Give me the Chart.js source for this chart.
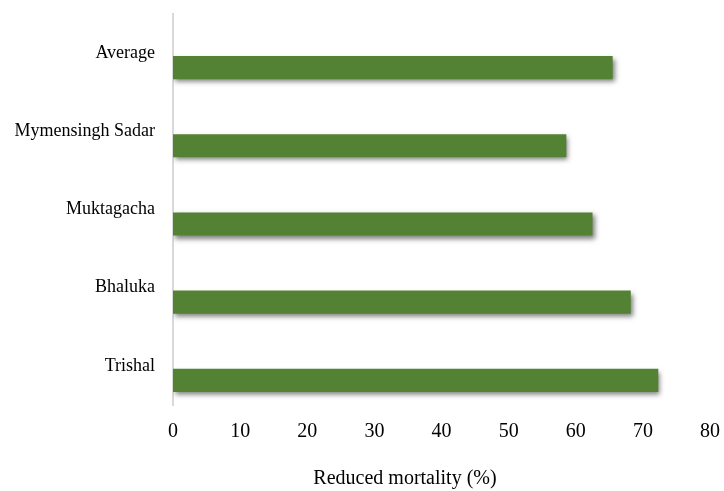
<!DOCTYPE html>
<html>
<head>
<meta charset="utf-8">
<script src="https://cdn.jsdelivr.net/npm/chart.js@4/dist/chart.umd.min.js"></script>
<style>
  html, body { margin: 0; padding: 0; background: #fff; }
  #wrap { width: 724px; height: 491px; }
</style>
</head>
<body>
<div id="wrap"><canvas id="myChart"></canvas></div>
<script>
// upazilas, top to bottom
const places = ['Average', 'Mymensingh Sadar', 'Muktagacha', 'Bhaluka', 'Trishal'];
// reduced mortality (%)
const mortality = [65.5, 58.6, 62.5, 68.2, 72.3];
// empty series, keeps the bars in the lower half of each row
const spacer = [null, null, null, null, null];

const xTitle = 'Reduced mortality (%)';
const serif = 'Liberation Serif, Times New Roman, serif';

// soft drop shadow under the bars
const barShadow = {
    id: 'barShadow',
    beforeDatasetsDraw: chart => {
        const ctx = chart.ctx;
        ctx.save();
        ctx.shadowColor = 'rgba(0,0,0,0.5)';
        ctx.shadowBlur = 5;
        ctx.shadowOffsetX = 2;
        ctx.shadowOffsetY = 3;
    },
    afterDatasetsDraw: chart => {
        chart.ctx.restore();
    }
};

// axis title under the tick labels
const axisTitle = {
    id: 'axisTitle',
    afterDraw: chart => {
        const ctx = chart.ctx;
        ctx.save();
        ctx.font = '20px ' + serif;
        ctx.fillStyle = '#000';
        ctx.textAlign = 'center';
        ctx.textBaseline = 'middle';
        ctx.fillText(xTitle, 405, 479);
        ctx.restore();
    }
};

const data = {
    labels: places,
    datasets: [{
            label: 'spacer',
            data: spacer,
            backgroundColor: 'rgba(0,0,0,0)'
        },
        {
            label: 'Reduced mortality',
            data: mortality,
            backgroundColor: '#548235',
            borderWidth: 0
        }
    ]
};

const config = {
    type: 'bar',
    data: data,
    options: {
        indexAxis: 'y',
        responsive: true,
        maintainAspectRatio: false,
        animation: false,
        categoryPercentage: 0.74,
        barPercentage: 0.8,
        layout: {
            padding: { left: 10, right: 14, top: 14, bottom: 0 }
        },
        plugins: {
            legend: { display: false },
            tooltip: { enabled: false }
        },
        scales: {
            x: {
                min: 0,
                max: 80,
                ticks: {
                    stepSize: 10,
                    color: '#000',
                    padding: 15,
                    font: { family: serif, size: 20 }
                },
                grid: { display: false, drawTicks: false },
                border: { display: false },
                afterFit: scale => {
                    scale.height = 86;
                    // the layout padding alone sets the side margins
                    scale.paddingLeft = 0;
                    scale.paddingRight = 0;
                }
            },
            y: {
                ticks: {
                    color: '#000',
                    padding: 18,
                    font: { family: serif, size: 18 }
                },
                grid: { display: false, drawTicks: false },
                border: { display: true, color: '#d9d9d9', width: 2 },
                afterFit: scale => {
                    scale.width = 163;
                    scale.paddingTop = 0;
                    scale.paddingBottom = 0;
                }
            }
        }
    },
    plugins: [barShadow, axisTitle]
};

const myChart = new Chart(
    document.getElementById('myChart'),
    config
);
</script>
</body>
</html>
